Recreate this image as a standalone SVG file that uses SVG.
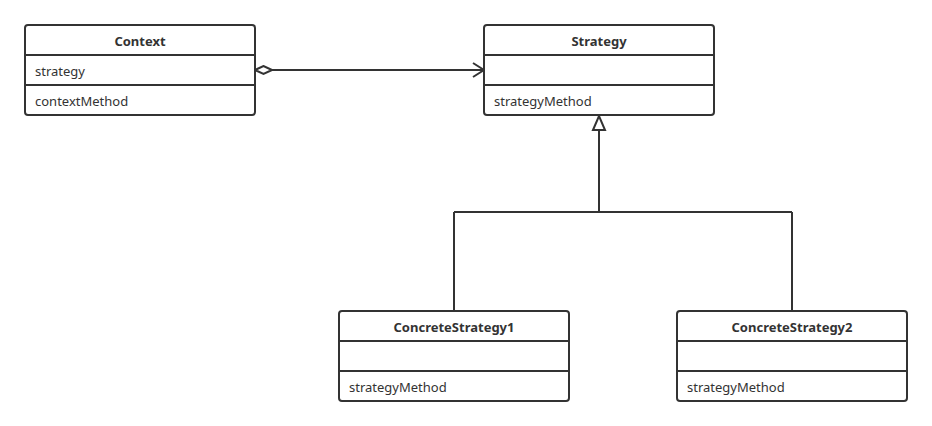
<svg xmlns="http://www.w3.org/2000/svg" width="932" height="426" viewBox="0 0 932 426">
<style>
.box{fill:#fff;stroke:#333;stroke-width:2}
.div{stroke:#333;stroke-width:2}
.t{font-family:"Noto Sans","Open Sans",sans-serif;font-size:13px;fill:#333}
.h{font-weight:bold;text-anchor:middle}
.c{fill:none;stroke:#333;stroke-width:2}
</style>
<defs>
<marker id="open" markerUnits="userSpaceOnUse" markerWidth="14" markerHeight="18" refX="12" refY="8" orient="auto">
<path d="M1,1 L12,8 L1,15" fill="none" stroke="#333" stroke-width="2"/>
</marker>
<marker id="diamond" markerUnits="userSpaceOnUse" markerWidth="20" markerHeight="12" refX="1" refY="5" orient="auto">
<path d="M1,5 L9.5,1 L18,5 L9.5,9 Z" fill="#fff" stroke="#333" stroke-width="2"/>
</marker>
</defs>
<g id="connectors">
<path class="c" d="M255,70 L484,70" marker-start="url(#diamond)" marker-end="url(#open)"/>
<path class="c" d="M599,130 L599,212 M454,212 L792,212 M454,212 L454,311 M792,212 L792,311"/>
<path d="M593,130 L599,116 L605,130 Z" fill="#fff" stroke="#333" stroke-width="2"/>
</g>
<g id="Context">
<rect class="box" x="25" y="25" width="230" height="90" rx="3"/>
<line class="div" x1="25" y1="55" x2="255" y2="55"/>
<line class="div" x1="25" y1="85" x2="255" y2="85"/>
<text class="t h" x="140" y="46">Context</text>
<text class="t" x="35" y="76">strategy</text>
<text class="t" x="35" y="106">contextMethod</text>
</g>
<g id="Strategy">
<rect class="box" x="484" y="25" width="230" height="90" rx="3"/>
<line class="div" x1="484" y1="55" x2="714" y2="55"/>
<line class="div" x1="484" y1="85" x2="714" y2="85"/>
<text class="t h" x="599" y="46">Strategy</text>
<text class="t" x="494" y="106">strategyMethod</text>
</g>
<g id="ConcreteStrategy1">
<rect class="box" x="339" y="311" width="230" height="90" rx="3"/>
<line class="div" x1="339" y1="341" x2="569" y2="341"/>
<line class="div" x1="339" y1="371" x2="569" y2="371"/>
<text class="t h" x="454" y="332">ConcreteStrategy1</text>
<text class="t" x="349" y="392">strategyMethod</text>
</g>
<g id="ConcreteStrategy2">
<rect class="box" x="677" y="311" width="230" height="90" rx="3"/>
<line class="div" x1="677" y1="341" x2="907" y2="341"/>
<line class="div" x1="677" y1="371" x2="907" y2="371"/>
<text class="t h" x="792" y="332">ConcreteStrategy2</text>
<text class="t" x="687" y="392">strategyMethod</text>
</g>
</svg>
